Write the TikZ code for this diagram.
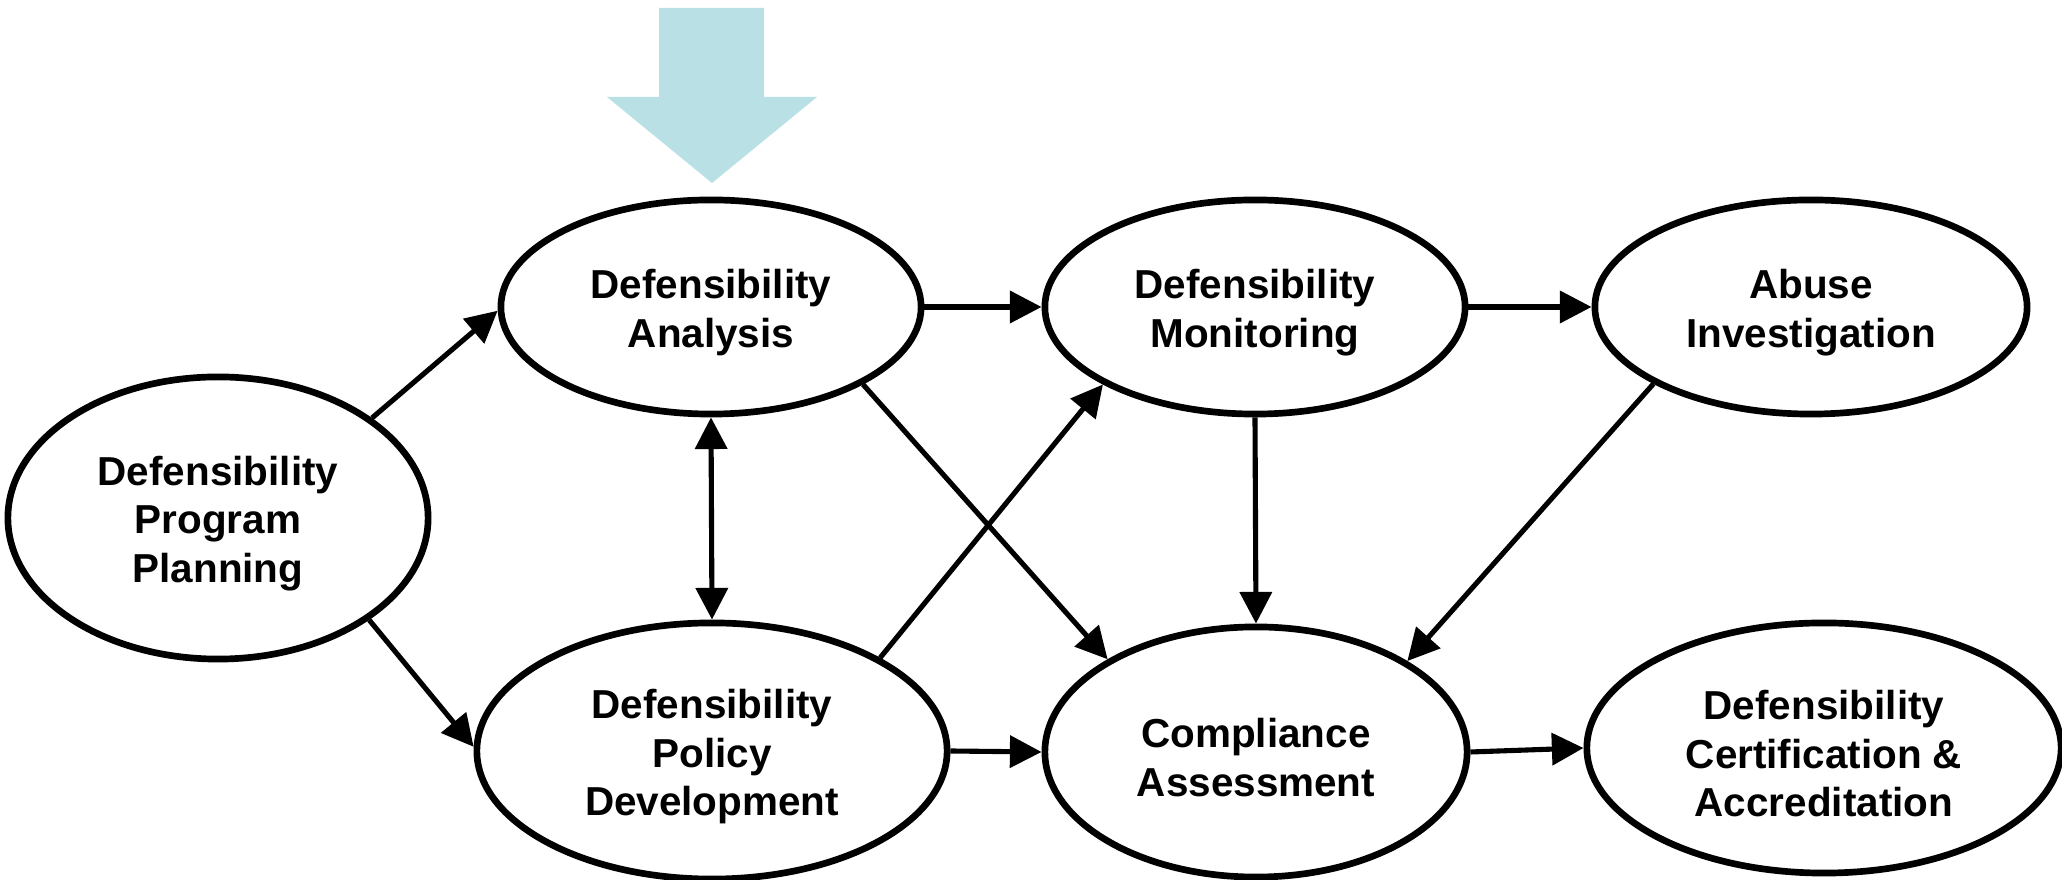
\documentclass[tikz,border=0pt]{standalone}
\usepackage{fontspec}
\setmainfont{Liberation Sans}
\usetikzlibrary{shapes.geometric,arrows.meta}
\definecolor{arrowblue}{RGB}{185,224,228}
\newcommand{\topstrut}{\rule{0pt}{11.5pt}}
\tikzset{
  proc/.style={ellipse, draw=black, line width=1.9pt, fill=white, inner sep=0pt,
    align=center, font=\fontsize{11.5}{13.9}\selectfont\bfseries},
  conn/.style={line width=1.45pt, -{Triangle[length=9pt,width=9pt]}},
  bconn/.style={line width=1.45pt, {Triangle[length=9pt,width=9pt]}-{Triangle[length=9pt,width=9pt]}}
}
\begin{document}
\begin{tikzpicture}[x=0.01cm,y=0.01cm]
\useasboundingbox (0,0) rectangle (2062,-880);
% top arrow
\fill[arrowblue] (659,-8) -- (764,-8) -- (764,-97) -- (817,-97) -- (712,-183) -- (607,-97) -- (659,-97) -- cycle;
% nodes
\node[proc, minimum width=4.20cm, minimum height=2.82cm] (plan) at (218,-518) {\topstrut Defensibility\\Program\\Planning};
\node[proc, minimum width=4.20cm, minimum height=2.14cm] (anal) at (711,-307) {\topstrut Defensibility\\Analysis};
\node[proc, minimum width=4.70cm, minimum height=2.56cm] (pol) at (712,-751) {\topstrut Defensibility\\Policy\\Development};
\node[proc, minimum width=4.20cm, minimum height=2.14cm] (mon) at (1255,-307) {\topstrut Defensibility\\Monitoring};
\node[proc, minimum width=4.22cm, minimum height=2.50cm] (comp) at (1256,-752) {\topstrut Compliance\\Assessment};
\node[proc, minimum width=4.32cm, minimum height=2.14cm] (abuse) at (1811,-307) {\topstrut Abuse\\Investigation};
\node[proc, minimum width=4.74cm, minimum height=2.50cm] (cert) at (1824,-748) {\topstrut Defensibility\\Certification \&\\Accreditation};
% connectors
\draw[conn] (plan.33.7) -- (anal.181);
\draw[conn] (plan.-34.7) -- (pol.179);
\draw[bconn] (anal.south) -- (pol.north);
\draw[conn] (anal.east) -- (mon.west);
\draw[conn] (anal.-27.6) -- (comp.148);
\draw[conn] (pol.29.3) -- (mon.207);
\draw[conn] (pol.east) -- (comp.west);
\draw[conn] (mon.south) -- (comp.north);
\draw[conn] (mon.east) -- (abuse.west);
\draw[conn] (abuse.206.4) -- (comp.31.4);
\draw[conn] (comp.east) -- (cert.west);
\end{tikzpicture}
\end{document}
